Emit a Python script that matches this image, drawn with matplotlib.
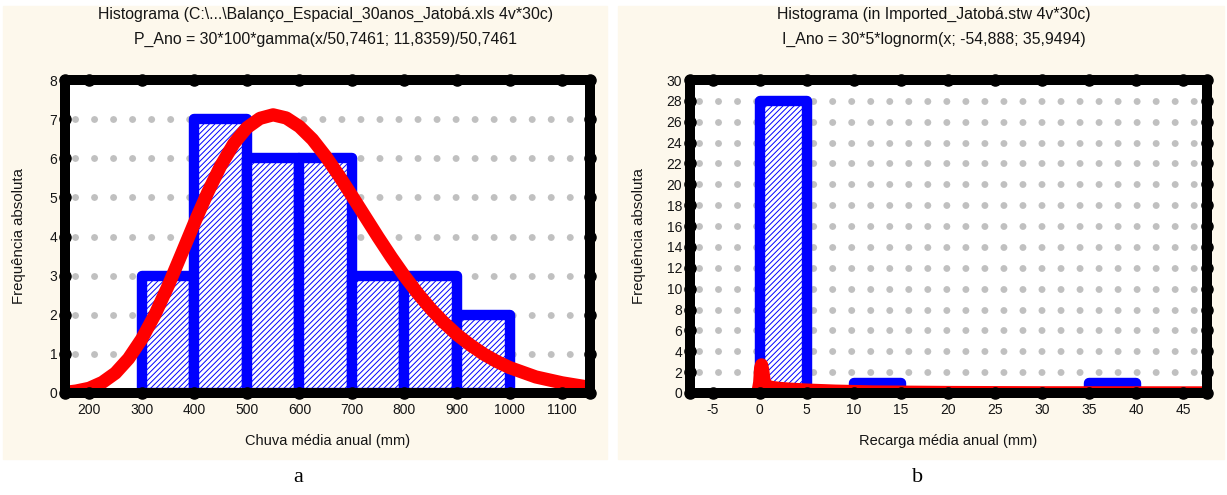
import numpy as np
import matplotlib.pyplot as plt
from matplotlib.patches import Rectangle

plt.rcParams['font.family'] = ['Liberation Sans', 'DejaVu Sans']
plt.rcParams['hatch.linewidth'] = 0.7
plt.rcParams['axes.unicode_minus'] = False

# --- dados ---
# a) chuva média anual
chuva_bins = [300, 400, 500, 600, 700, 800, 900, 1000]
chuva_freq = [3, 7, 6, 6, 3, 3, 2]
chuva_ajuste_x = [150, 175, 200, 225, 250, 275, 300, 325, 350, 375, 400, 425, 450,
                  475, 500, 525, 550, 575, 600, 625, 650, 675, 700, 725, 750, 775,
                  800, 825, 850, 875, 900, 925, 950, 975, 1000, 1050, 1100, 1150]
chuva_ajuste_y = [0.01, 0.05, 0.12, 0.27, 0.51, 0.88, 1.38, 2.00, 2.73, 3.53, 4.34,
                  5.11, 5.80, 6.37, 6.78, 7.02, 7.11, 7.03, 6.81, 6.48, 6.05, 5.56,
                  5.04, 4.51, 3.98, 3.47, 2.99, 2.55, 2.15, 1.80, 1.49, 1.23, 1.00,
                  0.81, 0.65, 0.41, 0.26, 0.15]

# b) recarga média anual
recarga_bins = [0, 5, 10, 15, 20, 25, 30, 35, 40]
recarga_freq = [28, 0, 1, 0, 0, 0, 0, 1]
recarga_ajuste_x = [-0.2, 0.0, 0.1, 0.2, 0.3, 0.45, 0.6, 0.8, 1.2, 2, 3, 5, 8, 12, 20, 30, 47]
recarga_ajuste_y = [0.0, 1.0, 2.4, 2.7, 2.3, 1.3, 0.8, 0.65, 0.55, 0.45, 0.38, 0.28, 0.18,
                    0.1, 0.05, 0.02, 0.01]

titulos_a = ["Histograma (C:\\...\\Balanço_Espacial_30anos_Jatobá.xls 4v*30c)",
             "P_Ano = 30*100*gamma(x/50,7461; 11,8359)/50,7461"]
titulos_b = ["Histograma (in Imported_Jatobá.stw 4v*30c)",
             "I_Ano = 30*5*lognorm(x; -54,888; 35,9494)"]

W, H = 1227, 495
fig = plt.figure(figsize=(W / 100, H / 100), dpi=100)
creme = '#fdf8ec'
fig.patches.append(Rectangle((3 / W, 1 - 459 / H), 604 / W, 453 / H,
                             transform=fig.transFigure, color=creme, zorder=-1))
fig.patches.append(Rectangle((618 / W, 1 - 459 / H), 606 / W, 453 / H,
                             transform=fig.transFigure, color=creme, zorder=-1))


def painel(rect, bins, freq, ax_x, ax_y, xlim, ylim, xticks, yticks,
           titulos, titulo_x, xlabel, letra, letra_x, grid_off, ylab_x):
    ax = fig.add_axes(rect)
    ax.set_facecolor('white')
    ax.set_xlim(*xlim)
    ax.set_ylim(*ylim)

    # linhas de grade pontilhadas
    for y in yticks[1:-1]:
        ax.axhline(y, color='#c0c0c0', lw=5.0, linestyle=(grid_off, (0.01, 2.73)),
                   dash_capstyle='round', zorder=0.5)

    # histograma
    esq = [b for b, f in zip(bins[:-1], freq) if f > 0]
    larg = [bins[i + 1] - bins[i] for i, f in enumerate(freq) if f > 0]
    alt = [f for f in freq if f > 0]
    ax.bar(esq, alt, width=larg, align='edge', facecolor='white', edgecolor='#0000ff',
           hatch='//////', linewidth=7.5, joinstyle='round', zorder=2)

    # curva ajustada
    ax.plot(ax_x, ax_y, color='#ff0000', lw=9.5, solid_capstyle='round',
            solid_joinstyle='round', zorder=2.2)

    # moldura preta grossa
    for s in ax.spines.values():
        s.set_linewidth(7.2)
        s.set_color('black')
        s.set_capstyle('round')
    ax.set_xticks(xticks)
    ax.set_yticks(yticks)
    ax.tick_params(length=0, labelsize=10, colors='#151515')
    ax.tick_params(axis='x', pad=7)
    ax.tick_params(axis='y', pad=5.5)

    # marcas dos ticks como pontos sobre a moldura
    for xs, ys in [(xticks, [ylim[0]] * len(xticks)), (xticks, [ylim[1]] * len(xticks)),
                   ([xlim[0]] * len(yticks), yticks), ([xlim[1]] * len(yticks), yticks)]:
        ax.plot(xs, ys, 'o', color='black', ms=8, clip_on=False, zorder=3)

    ax.set_xlabel(xlabel, fontsize=10.5, color='#151515')
    ax.xaxis.set_label_coords(0.5, -0.13)
    ax.set_ylabel('Frequência absoluta', fontsize=10.8, color='#151515')
    ax.yaxis.set_label_coords(ylab_x, 0.5)

    fig.text(titulo_x / W, 1 - 14 / H, titulos[0], ha='center', va='center',
             fontsize=11.4, color='#151515')
    fig.text(titulo_x / W, 1 - 39 / H, titulos[1], ha='center', va='center',
             fontsize=11.4, color='#151515')
    fig.text(letra_x / W, 1 - 478 / H, letra, ha='center', va='center', fontsize=16,
             family=['Liberation Serif', 'DejaVu Serif'])
    return ax


ybot = (H - 393) / H
hgt = 313 / H
painel([65 / W, ybot, 525 / W, hgt], chuva_bins, chuva_freq, chuva_ajuste_x,
       chuva_ajuste_y, (154, 1153), (0, 8), list(range(200, 1101, 100)),
       list(range(0, 9)), titulos_a, 326, 'Chuva média anual (mm)', 'a', 298, 1.3, -0.075)
painel([690 / W, ybot, 517 / W, hgt], recarga_bins, recarga_freq, recarga_ajuste_x,
       recarga_ajuste_y, (-7.4, 47.5), (0, 30), list(range(-5, 46, 5)),
       list(range(0, 31, 2)), titulos_b, 934, 'Recarga média anual (mm)', 'b', 918, 1.45,
       -0.085)

fig.savefig('out.png', dpi=100)
